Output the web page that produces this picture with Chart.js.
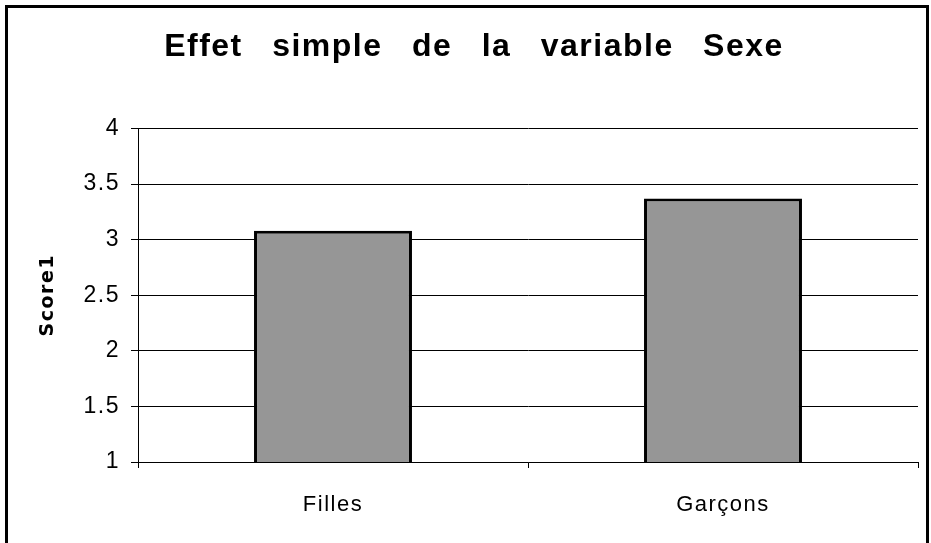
<!DOCTYPE html>
<html>
<head>
<meta charset="utf-8">
<script src="https://cdn.jsdelivr.net/npm/chart.js@4/dist/chart.umd.min.js"></script>
<style>
  html, body { margin: 0; padding: 0; background: #fff; overflow: hidden; }
  #wrap { position: relative; width: 931px; height: 543px; }
  #chart { position: absolute; left: 0; top: 0; }
  #frame {
    position: absolute; left: 5px; top: 5px; width: 918px; height: 600px;
    border: 3px solid #000; border-bottom: none; pointer-events: none;
  }
</style>
</head>
<body>
<div id="wrap">
  <canvas id="chart" width="931" height="543"></canvas>
  <div id="frame"></div>
</div>
<script>
// données du graphique
const categories = ['Filles', 'Garçons'];
const scores = [3.08, 3.37];
const yMin = 1;
const yMax = 4;
const yStep = 0.5;

const fontFamily = '"Liberation Sans", Arial, Helvetica, sans-serif';

// espacement des lettres (le titre est très espacé, les graduations un peu)
const spacingPlugin = {
    id: 'spacing',
    beforeDraw(chart) {
        chart.ctx.letterSpacing = '1.5px';
        chart.ctx.wordSpacing = '19px';
    },
    beforeDatasetsDraw(chart) {
        chart.ctx.letterSpacing = '1.5px';
        chart.ctx.wordSpacing = '0px';
    },
    afterDraw(chart) {
        chart.ctx.letterSpacing = '0px';
        chart.ctx.wordSpacing = '0px';
    }
};

new Chart(document.getElementById('chart'), {
    type: 'bar',
    data: {
        labels: categories,
        datasets: [{
            label: 'Score1',
            data: scores,
            backgroundColor: '#969696',
            borderColor: '#000',
            borderWidth: 3,
            borderSkipped: false,
            barPercentage: 0.405,
            categoryPercentage: 1
        }]
    },
    options: {
        responsive: false,
        animation: false,
        layout: { padding: { left: 30, right: 13, top: 0, bottom: 0 } },
        plugins: {
            legend: { display: false },
            tooltip: { enabled: false },
            title: {
                display: true,
                text: 'Effet simple de la variable Sexe',
                color: '#000',
                font: { family: fontFamily, size: 32, weight: 'bold' },
                padding: { top: 28, bottom: 62 }
            }
        },
        scales: {
            x: {
                grid: { drawOnChartArea: false, color: '#000', tickLength: 6 },
                border: { color: '#000', width: 1 },
                ticks: { color: '#000', font: { family: fontFamily, size: 22 }, padding: 24, z: 1 },
                afterFit: (scale) => { scale.height = 81; }
            },
            y: {
                min: yMin,
                max: yMax,
                grid: { color: '#000', tickLength: 7, lineWidth: 1 },
                border: { color: '#000', width: 1 },
                ticks: {
                    stepSize: yStep,
                    color: '#000',
                    font: { family: fontFamily, size: 23 },
                    padding: 11,
                    z: 1,
                    callback: (val) => String(val)
                },
                title: {
                    display: true,
                    text: 'Score1',
                    color: '#000',
                    font: { family: '"DejaVu Sans", sans-serif', size: 19, weight: 'bold' },
                    padding: { top: 7 }
                },
                afterFit: (scale) => { scale.width = 108; }
            }
        }
    },
    plugins: [spacingPlugin]
});
</script>
</body>
</html>
